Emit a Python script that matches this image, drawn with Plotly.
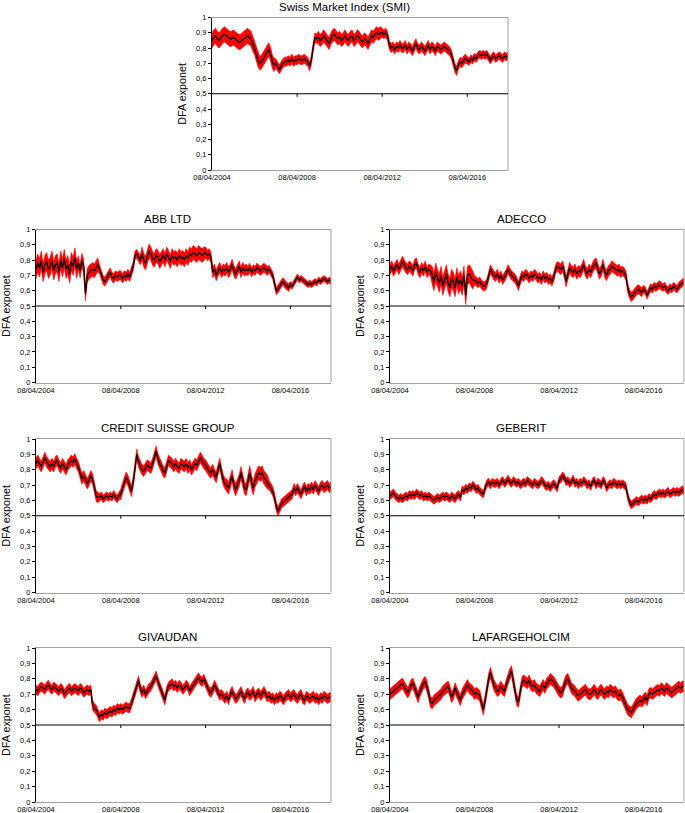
import numpy as np
import pandas as pd
import plotly.graph_objects as go

# monthly DFA exponent readings, 08/04/2004 .. 08/03/2018 (one row = Apr..Mar)
dates = pd.date_range("2004-04-08", periods=168, freq=pd.DateOffset(months=1))

smi = [
    0.85, 0.87, 0.88, 0.86, 0.85, 0.87, 0.88, 0.89, 0.88, 0.87, 0.86, 0.86,
    0.87, 0.86, 0.85, 0.84, 0.84, 0.85, 0.86, 0.87, 0.88, 0.87, 0.86, 0.83,
    0.80, 0.76, 0.72, 0.70, 0.71, 0.73, 0.75, 0.77, 0.79, 0.76, 0.71, 0.69,
    0.70, 0.68, 0.66, 0.68, 0.70, 0.71, 0.71, 0.72, 0.71, 0.73, 0.71, 0.72,
    0.72, 0.73, 0.72, 0.72, 0.73, 0.72, 0.71, 0.68, 0.72, 0.80, 0.87, 0.86,
    0.87, 0.85, 0.86, 0.88, 0.86, 0.84, 0.83, 0.86, 0.88, 0.89, 0.87, 0.86,
    0.87, 0.85, 0.86, 0.88, 0.86, 0.85, 0.87, 0.88, 0.85, 0.86, 0.88, 0.87,
    0.85, 0.84, 0.86, 0.85, 0.83, 0.86, 0.88, 0.87, 0.89, 0.90, 0.89, 0.90,
    0.90, 0.89, 0.90, 0.88, 0.82, 0.80, 0.81, 0.79, 0.81, 0.80, 0.82, 0.80,
    0.80, 0.82, 0.79, 0.81, 0.80, 0.78, 0.81, 0.83, 0.80, 0.79, 0.81, 0.80,
    0.78, 0.80, 0.82, 0.79, 0.81, 0.80, 0.78, 0.81, 0.80, 0.79, 0.80, 0.81,
    0.80, 0.79, 0.78, 0.76, 0.72, 0.67, 0.65, 0.69, 0.71, 0.70, 0.72, 0.73,
    0.72, 0.71, 0.73, 0.72, 0.74, 0.73, 0.75, 0.76, 0.75, 0.76, 0.75, 0.76,
    0.74, 0.72, 0.74, 0.75, 0.73, 0.74, 0.75, 0.74, 0.73, 0.75, 0.74, 0.75,
]
abb = [
    0.74, 0.78, 0.75, 0.80, 0.72, 0.77, 0.79, 0.74, 0.76, 0.80, 0.73, 0.77,
    0.78, 0.72, 0.80, 0.75, 0.81, 0.74, 0.77, 0.71, 0.79, 0.76, 0.82, 0.74,
    0.78, 0.73, 0.80, 0.76, 0.58, 0.70, 0.72, 0.73, 0.74, 0.73, 0.75, 0.77,
    0.74, 0.70, 0.67, 0.66, 0.68, 0.70, 0.72, 0.69, 0.68, 0.70, 0.69, 0.70,
    0.70, 0.68, 0.70, 0.69, 0.71, 0.69, 0.72, 0.76, 0.83, 0.84, 0.82, 0.80,
    0.84, 0.80, 0.78, 0.83, 0.86, 0.84, 0.81, 0.80, 0.83, 0.82, 0.79, 0.81,
    0.83, 0.80, 0.84, 0.82, 0.79, 0.83, 0.81, 0.82, 0.80, 0.83, 0.81, 0.82,
    0.80, 0.83, 0.81, 0.84, 0.83, 0.85, 0.84, 0.83, 0.85, 0.84, 0.83, 0.84,
    0.85, 0.83, 0.84, 0.82, 0.72, 0.74, 0.70, 0.73, 0.75, 0.72, 0.74, 0.73,
    0.75, 0.72, 0.74, 0.77, 0.73, 0.71, 0.74, 0.76, 0.72, 0.75, 0.73, 0.74,
    0.73, 0.75, 0.72, 0.74, 0.73, 0.75, 0.74, 0.73, 0.74, 0.75, 0.74, 0.73,
    0.74, 0.72, 0.70, 0.65, 0.60, 0.61, 0.63, 0.65, 0.66, 0.64, 0.63, 0.62,
    0.64, 0.63, 0.65, 0.67, 0.69, 0.67, 0.68, 0.67, 0.66, 0.65, 0.64, 0.65,
    0.64, 0.65, 0.66, 0.65, 0.67, 0.66, 0.67, 0.68, 0.67, 0.66, 0.67, 0.66,
]
adecco = [
    0.74, 0.76, 0.73, 0.75, 0.77, 0.74, 0.76, 0.79, 0.77, 0.75, 0.74, 0.76,
    0.75, 0.73, 0.77, 0.78, 0.74, 0.72, 0.75, 0.73, 0.76, 0.72, 0.74, 0.73,
    0.70, 0.66, 0.72, 0.68, 0.65, 0.70, 0.63, 0.67, 0.71, 0.65, 0.62, 0.68,
    0.66, 0.62, 0.69, 0.64, 0.67, 0.63, 0.70, 0.57, 0.70, 0.71, 0.69, 0.67,
    0.67, 0.66, 0.65, 0.66, 0.64, 0.63, 0.63, 0.65, 0.69, 0.74, 0.72, 0.70,
    0.69, 0.71, 0.68, 0.70, 0.67, 0.69, 0.71, 0.74, 0.72, 0.70, 0.69, 0.68,
    0.66, 0.63, 0.67, 0.70, 0.69, 0.71, 0.70, 0.68, 0.70, 0.69, 0.71, 0.70,
    0.68, 0.69, 0.67, 0.70, 0.68, 0.69, 0.67, 0.68, 0.66, 0.69, 0.74, 0.76,
    0.75, 0.74, 0.76, 0.72, 0.66, 0.71, 0.75, 0.73, 0.72, 0.74, 0.71, 0.73,
    0.72, 0.74, 0.77, 0.73, 0.71, 0.74, 0.72, 0.75, 0.77, 0.78, 0.74, 0.71,
    0.73, 0.77, 0.72, 0.70, 0.73, 0.74, 0.76, 0.75, 0.74, 0.73, 0.74, 0.72,
    0.73, 0.72, 0.70, 0.62, 0.58, 0.56, 0.57, 0.59, 0.60, 0.61, 0.60, 0.59,
    0.61, 0.60, 0.57, 0.60, 0.62, 0.61, 0.63, 0.62, 0.63, 0.64, 0.63, 0.62,
    0.63, 0.61, 0.60, 0.62, 0.61, 0.63, 0.62, 0.61, 0.63, 0.64, 0.65, 0.66,
]
credit_suisse = [
    0.84, 0.86, 0.84, 0.82, 0.85, 0.88, 0.85, 0.83, 0.82, 0.84, 0.82, 0.85,
    0.86, 0.83, 0.81, 0.84, 0.82, 0.80, 0.83, 0.85, 0.86, 0.85, 0.87, 0.84,
    0.82, 0.78, 0.74, 0.76, 0.73, 0.71, 0.73, 0.76, 0.74, 0.68, 0.63, 0.62,
    0.62, 0.63, 0.61, 0.62, 0.63, 0.62, 0.63, 0.62, 0.64, 0.62, 0.61, 0.63,
    0.64, 0.68, 0.72, 0.75, 0.73, 0.70, 0.66, 0.72, 0.82, 0.90, 0.85, 0.82,
    0.80, 0.79, 0.81, 0.83, 0.82, 0.81, 0.84, 0.88, 0.92, 0.87, 0.84, 0.81,
    0.79, 0.78, 0.83, 0.86, 0.85, 0.84, 0.82, 0.84, 0.82, 0.81, 0.84, 0.83,
    0.82, 0.84, 0.81, 0.83, 0.80, 0.82, 0.84, 0.83, 0.86, 0.88, 0.86, 0.84,
    0.83, 0.81, 0.79, 0.78, 0.80, 0.77, 0.75, 0.80, 0.84, 0.78, 0.73, 0.71,
    0.70, 0.68, 0.72, 0.76, 0.70, 0.67, 0.70, 0.73, 0.78, 0.72, 0.68, 0.67,
    0.72, 0.78, 0.72, 0.68, 0.73, 0.76, 0.78, 0.77, 0.78, 0.75, 0.73, 0.72,
    0.70, 0.68, 0.66, 0.62, 0.56, 0.53, 0.56, 0.58, 0.59, 0.60, 0.61, 0.62,
    0.63, 0.64, 0.68, 0.66, 0.68, 0.66, 0.64, 0.67, 0.69, 0.66, 0.68, 0.67,
    0.69, 0.67, 0.70, 0.68, 0.66, 0.69, 0.70, 0.68, 0.69, 0.70, 0.68, 0.69,
]
geberit = [
    0.63, 0.64, 0.65, 0.63, 0.62, 0.61, 0.62, 0.61, 0.62, 0.63, 0.62, 0.64,
    0.63, 0.64, 0.63, 0.65, 0.64, 0.63, 0.64, 0.62, 0.63, 0.62, 0.63, 0.62,
    0.61, 0.60, 0.61, 0.62, 0.61, 0.62, 0.63, 0.62, 0.63, 0.62, 0.61, 0.63,
    0.62, 0.61, 0.63, 0.64, 0.62, 0.67, 0.66, 0.68, 0.67, 0.69, 0.68, 0.70,
    0.69, 0.67, 0.68, 0.66, 0.65, 0.64, 0.68, 0.71, 0.72, 0.70, 0.72, 0.71,
    0.71, 0.72, 0.70, 0.72, 0.73, 0.71, 0.72, 0.74, 0.72, 0.71, 0.73, 0.72,
    0.71, 0.72, 0.70, 0.71, 0.72, 0.71, 0.73, 0.72, 0.71, 0.70, 0.72, 0.71,
    0.70, 0.71, 0.73, 0.72, 0.70, 0.69, 0.70, 0.68, 0.70, 0.71, 0.69, 0.68,
    0.73, 0.74, 0.76, 0.75, 0.72, 0.73, 0.71, 0.72, 0.74, 0.71, 0.72, 0.70,
    0.72, 0.71, 0.73, 0.72, 0.70, 0.71, 0.69, 0.72, 0.73, 0.70, 0.72, 0.71,
    0.70, 0.73, 0.72, 0.68, 0.70, 0.71, 0.70, 0.72, 0.71, 0.70, 0.71, 0.70,
    0.71, 0.70, 0.69, 0.63, 0.59, 0.57, 0.58, 0.59, 0.60, 0.59, 0.60, 0.61,
    0.60, 0.61, 0.60, 0.62, 0.61, 0.63, 0.64, 0.63, 0.64, 0.65, 0.64, 0.65,
    0.64, 0.65, 0.66, 0.64, 0.65, 0.66, 0.65, 0.66, 0.65, 0.66, 0.67, 0.66,
]
givaudan = [
    0.73, 0.72, 0.74, 0.75, 0.74, 0.73, 0.75, 0.76, 0.74, 0.73, 0.75, 0.74,
    0.73, 0.72, 0.74, 0.73, 0.70, 0.72, 0.73, 0.74, 0.72, 0.73, 0.74, 0.73,
    0.72, 0.74, 0.73, 0.71, 0.72, 0.73, 0.72, 0.73, 0.63, 0.61, 0.60, 0.58,
    0.55, 0.57, 0.56, 0.58, 0.57, 0.58, 0.59, 0.58, 0.60, 0.59, 0.61, 0.60,
    0.61, 0.60, 0.61, 0.62, 0.61, 0.61, 0.64, 0.68, 0.72, 0.76, 0.79, 0.74,
    0.71, 0.73, 0.70, 0.72, 0.74, 0.75, 0.77, 0.80, 0.82, 0.78, 0.75, 0.72,
    0.68, 0.66, 0.72, 0.75, 0.76, 0.77, 0.75, 0.76, 0.74, 0.76, 0.75, 0.73,
    0.74, 0.76, 0.75, 0.72, 0.74, 0.76, 0.78, 0.80, 0.81, 0.79, 0.78, 0.80,
    0.77, 0.74, 0.72, 0.71, 0.73, 0.76, 0.74, 0.71, 0.69, 0.70, 0.68, 0.67,
    0.69, 0.66, 0.70, 0.72, 0.69, 0.67, 0.68, 0.70, 0.72, 0.69, 0.67, 0.70,
    0.71, 0.69, 0.70, 0.72, 0.68, 0.70, 0.71, 0.69, 0.70, 0.72, 0.70, 0.68,
    0.69, 0.67, 0.68, 0.66, 0.68, 0.67, 0.69, 0.68, 0.66, 0.68, 0.69, 0.70,
    0.68, 0.69, 0.70, 0.68, 0.67, 0.69, 0.70, 0.67, 0.66, 0.69, 0.68, 0.67,
    0.68, 0.69, 0.67, 0.68, 0.66, 0.68, 0.67, 0.69, 0.68, 0.67, 0.68, 0.68,
]
lafargeholcim = [
    0.70, 0.71, 0.72, 0.73, 0.74, 0.75, 0.76, 0.77, 0.75, 0.73, 0.71, 0.73,
    0.76, 0.77, 0.74, 0.71, 0.68, 0.72, 0.75, 0.77, 0.78, 0.75, 0.70, 0.65,
    0.64, 0.66, 0.67, 0.68, 0.69, 0.70, 0.72, 0.73, 0.74, 0.75, 0.72, 0.68,
    0.70, 0.74, 0.71, 0.68, 0.66, 0.70, 0.72, 0.74, 0.76, 0.74, 0.73, 0.72,
    0.70, 0.71, 0.70, 0.69, 0.64, 0.60, 0.66, 0.74, 0.80, 0.84, 0.80, 0.76,
    0.74, 0.72, 0.73, 0.75, 0.73, 0.72, 0.76, 0.80, 0.83, 0.85, 0.79, 0.72,
    0.66, 0.65, 0.72, 0.78, 0.79, 0.78, 0.77, 0.79, 0.76, 0.75, 0.76, 0.74,
    0.73, 0.72, 0.74, 0.76, 0.74, 0.77, 0.78, 0.80, 0.79, 0.78, 0.76, 0.74,
    0.72, 0.71, 0.72, 0.76, 0.79, 0.80, 0.77, 0.74, 0.73, 0.72, 0.70, 0.69,
    0.70, 0.71, 0.72, 0.73, 0.71, 0.70, 0.70, 0.72, 0.73, 0.71, 0.70, 0.72,
    0.73, 0.71, 0.70, 0.72, 0.71, 0.73, 0.72, 0.71, 0.72, 0.70, 0.69, 0.70,
    0.68, 0.65, 0.62, 0.60, 0.59, 0.58, 0.60, 0.62, 0.64, 0.65, 0.66, 0.65,
    0.67, 0.68, 0.66, 0.70, 0.71, 0.70, 0.71, 0.72, 0.73, 0.72, 0.74, 0.73,
    0.72, 0.74, 0.73, 0.72, 0.71, 0.72, 0.73, 0.74, 0.75, 0.74, 0.75, 0.75,
]

# half-width of the red band, one value per Apr..Mar year
smi_err = [0.05, 0.05, 0.045, 0.03, 0.03, 0.04, 0.04, 0.04, 0.03, 0.03, 0.03, 0.03, 0.025, 0.025]
abb_err = [0.06, 0.06, 0.045, 0.03, 0.03, 0.045, 0.045, 0.045, 0.035, 0.035, 0.03, 0.025, 0.02, 0.02]
adecco_err = [0.035, 0.035, 0.06, 0.06, 0.03, 0.03, 0.03, 0.03, 0.035, 0.035, 0.035, 0.03, 0.025, 0.025]
cs_err = [0.035, 0.035, 0.035, 0.025, 0.035, 0.035, 0.035, 0.035, 0.035, 0.04, 0.045, 0.03, 0.03, 0.03]
geberit_err = [0.025] * 14
givaudan_err = [0.03] * 14
lafarge_err = [0.035] * 14

tick_dates = ["2004-04-08", "2008-04-08", "2012-04-08", "2016-04-08"]
tick_text = ["08/04/2004", "08/04/2008", "08/04/2012", "08/04/2016"]
x_range = ["2004-04-08", "2018-03-08"]

W, H = 685, 813
FONT = "Liberation Sans, Arial, sans-serif"

# name, values, band, (left, right, top, bottom) in pixels
panels = [
    ("Swiss Market Index (SMI)", smi, smi_err, (212, 508, 17.5, 170)),
    ("ABB LTD", abb, abb_err, (36, 331, 229.5, 382.5)),
    ("ADECCO", adecco, adecco_err, (390, 684, 229.5, 382.5)),
    ("CREDIT SUISSE GROUP", credit_suisse, cs_err, (36, 331, 439, 592.5)),
    ("GEBERIT", geberit, geberit_err, (390, 684, 439, 592.5)),
    ("GIVAUDAN", givaudan, givaudan_err, (36, 331, 648, 802)),
    ("LAFARGEHOLCIM", lafargeholcim, lafarge_err, (390, 684, 648, 802)),
]

fig = go.Figure()
layout = {}
annotations = []
shapes = []

for i, (name, vals, err, (l, r, t, b)) in enumerate(panels, start=1):
    sfx = "" if i == 1 else str(i)
    xa, ya = f"x{sfx}", f"y{sfx}"
    vals = np.array(vals)
    band = np.repeat(err, 12)
    lo, hi = vals - band, vals + band

    fig.add_trace(go.Scatter(x=dates, y=lo, mode="lines", line=dict(width=0.6, color="#ff0000"),
                             xaxis=xa, yaxis=ya, showlegend=False, hoverinfo="skip"))
    fig.add_trace(go.Scatter(x=dates, y=hi, mode="lines", line=dict(width=0.6, color="#ff0000"),
                             fill="tonexty", fillcolor="#ff0000",
                             xaxis=xa, yaxis=ya, showlegend=False, hoverinfo="skip"))
    fig.add_trace(go.Scatter(x=dates, y=vals, mode="lines", line=dict(width=1.3, color="black"),
                             xaxis=xa, yaxis=ya, showlegend=False, name=name))

    xdom = [l / W, r / W]
    ydom = [1 - b / H, 1 - t / H]
    layout[f"xaxis{sfx}"] = dict(
        domain=xdom, anchor=ya, type="date", range=x_range, automargin=False,
        tickvals=tick_dates, ticktext=tick_text, ticks="",
        tickfont=dict(size=7.5, color="black", family=FONT),
        showline=True, linecolor="#a0a0a0", linewidth=1, mirror=True,
        showgrid=False, zeroline=False,
    )
    layout[f"yaxis{sfx}"] = dict(
        domain=ydom, anchor=xa, range=[0, 1], dtick=0.1, tick0=0, automargin=False,
        ticks="outside", ticklen=3, tickcolor="black",
        tickfont=dict(size=7.5, color="black", family=FONT),
        showline=True, linecolor="black", linewidth=1,
        showgrid=False, zeroline=False,
    )

    # plot border on the right
    shapes.append(dict(type="line", xref=f"{xa} domain", yref=f"{ya} domain",
                       x0=1, x1=1, y0=0, y1=1, line=dict(color="#a0a0a0", width=1)))
    # Excel-style horizontal axis crossing at 0.5, with its tick marks
    shapes.append(dict(type="line", xref=f"{xa} domain", yref=ya,
                       x0=0, x1=1, y0=0.5, y1=0.5, line=dict(color="black", width=1)))
    for d in tick_dates[1:]:
        shapes.append(dict(type="line", xref=xa, yref=ya, x0=d, x1=d, y0=0.5, y1=0.48,
                           line=dict(color="black", width=1)))

    # chart title is centred over the whole chart area (incl. axis labels)
    annotations.append(dict(text=name, xref="paper", yref="paper",
                            x=((l + r) / 2 - 16) / W, y=1 - (t - 11) / H,
                            xanchor="center", yanchor="middle", showarrow=False,
                            font=dict(size=11.5, color="black", family=FONT)))
    annotations.append(dict(text="DFA exponet", xref="paper", yref="paper",
                            x=(l - 30) / W, y=(ydom[0] + ydom[1]) / 2, textangle=-90,
                            xanchor="center", yanchor="middle", showarrow=False,
                            font=dict(size=10.8, color="black", family=FONT)))

fig.update_layout(
    **layout,
    width=W, height=H,
    margin=dict(l=0, r=0, t=0, b=0),
    plot_bgcolor="white", paper_bgcolor="white",
    separators=", ",
    annotations=annotations,
    shapes=shapes,
    showlegend=False,
    font=dict(family=FONT),
)

# drop the browser's default 8px body margin so the figure sits at the page origin
fig.write_html("out.html", config={"displayModeBar": False},
               post_script="document.body.style.margin = '0px';")
